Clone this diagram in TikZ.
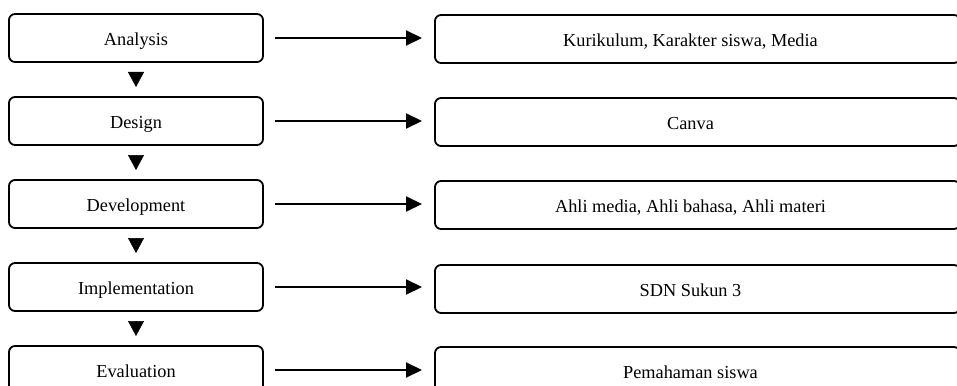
\documentclass[tikz,border=0pt]{standalone}
\usepackage{fontspec}
\setmainfont{Liberation Serif}
\usetikzlibrary{arrows.meta}
\begin{document}
\begin{tikzpicture}[x=1pt,y=1pt,
  boxbase/.style={draw, line width=1.8pt, rounded corners=6pt, minimum height=48pt, inner sep=0pt, outer sep=0pt, text height=15pt, text depth=0pt, font=\fontsize{18.3}{22}\selectfont},
  stagebox/.style={boxbase, minimum width=254pt},
  resbox/.style={boxbase, minimum width=525pt, execute at end node={\hspace*{14pt}}},
  downtri/.style={-{Triangle[length=15pt,width=16pt]}, line width=0.5pt, shorten <=10pt, shorten >=10pt},
  rightarr/.style={-{Triangle[length=16pt,width=15pt]}, line width=2pt, shorten <=12pt, shorten >=13pt}]
\useasboundingbox (0,0) rectangle (957,-385);
\begin{scope}
\clip (0,0) rectangle (957,-385);
\node[stagebox] (a1) at (136,-38) {Analysis};
\node[stagebox] (a2) at (136,-121) {Design};
\node[stagebox] (a3) at (136,-204) {Development};
\node[stagebox] (a4) at (136,-287) {Implementation};
\node[stagebox] (a5) at (136,-370) {Evaluation};
\node[resbox] (b1) at (697.5,-39) {Kurikulum, Karakter siswa, Media};
\node[resbox] (b2) at (697.5,-122) {Canva};
\node[resbox] (b3) at (697.5,-205) {Ahli media, Ahli bahasa, Ahli materi};
\node[resbox] (b4) at (697.5,-289) {SDN Sukun 3};
\node[resbox] (b5) at (697.5,-371) {Pemahaman siswa};
\foreach \i in {1,...,5} {\draw[rightarr] (a\i.east) -- (a\i.east -| b\i.west);}
\draw[downtri] (a1.south) -- (a2.north);
\draw[downtri] (a2.south) -- (a3.north);
\draw[downtri] (a3.south) -- (a4.north);
\draw[downtri] (a4.south) -- (a5.north);
\end{scope}
\end{tikzpicture}
\end{document}
